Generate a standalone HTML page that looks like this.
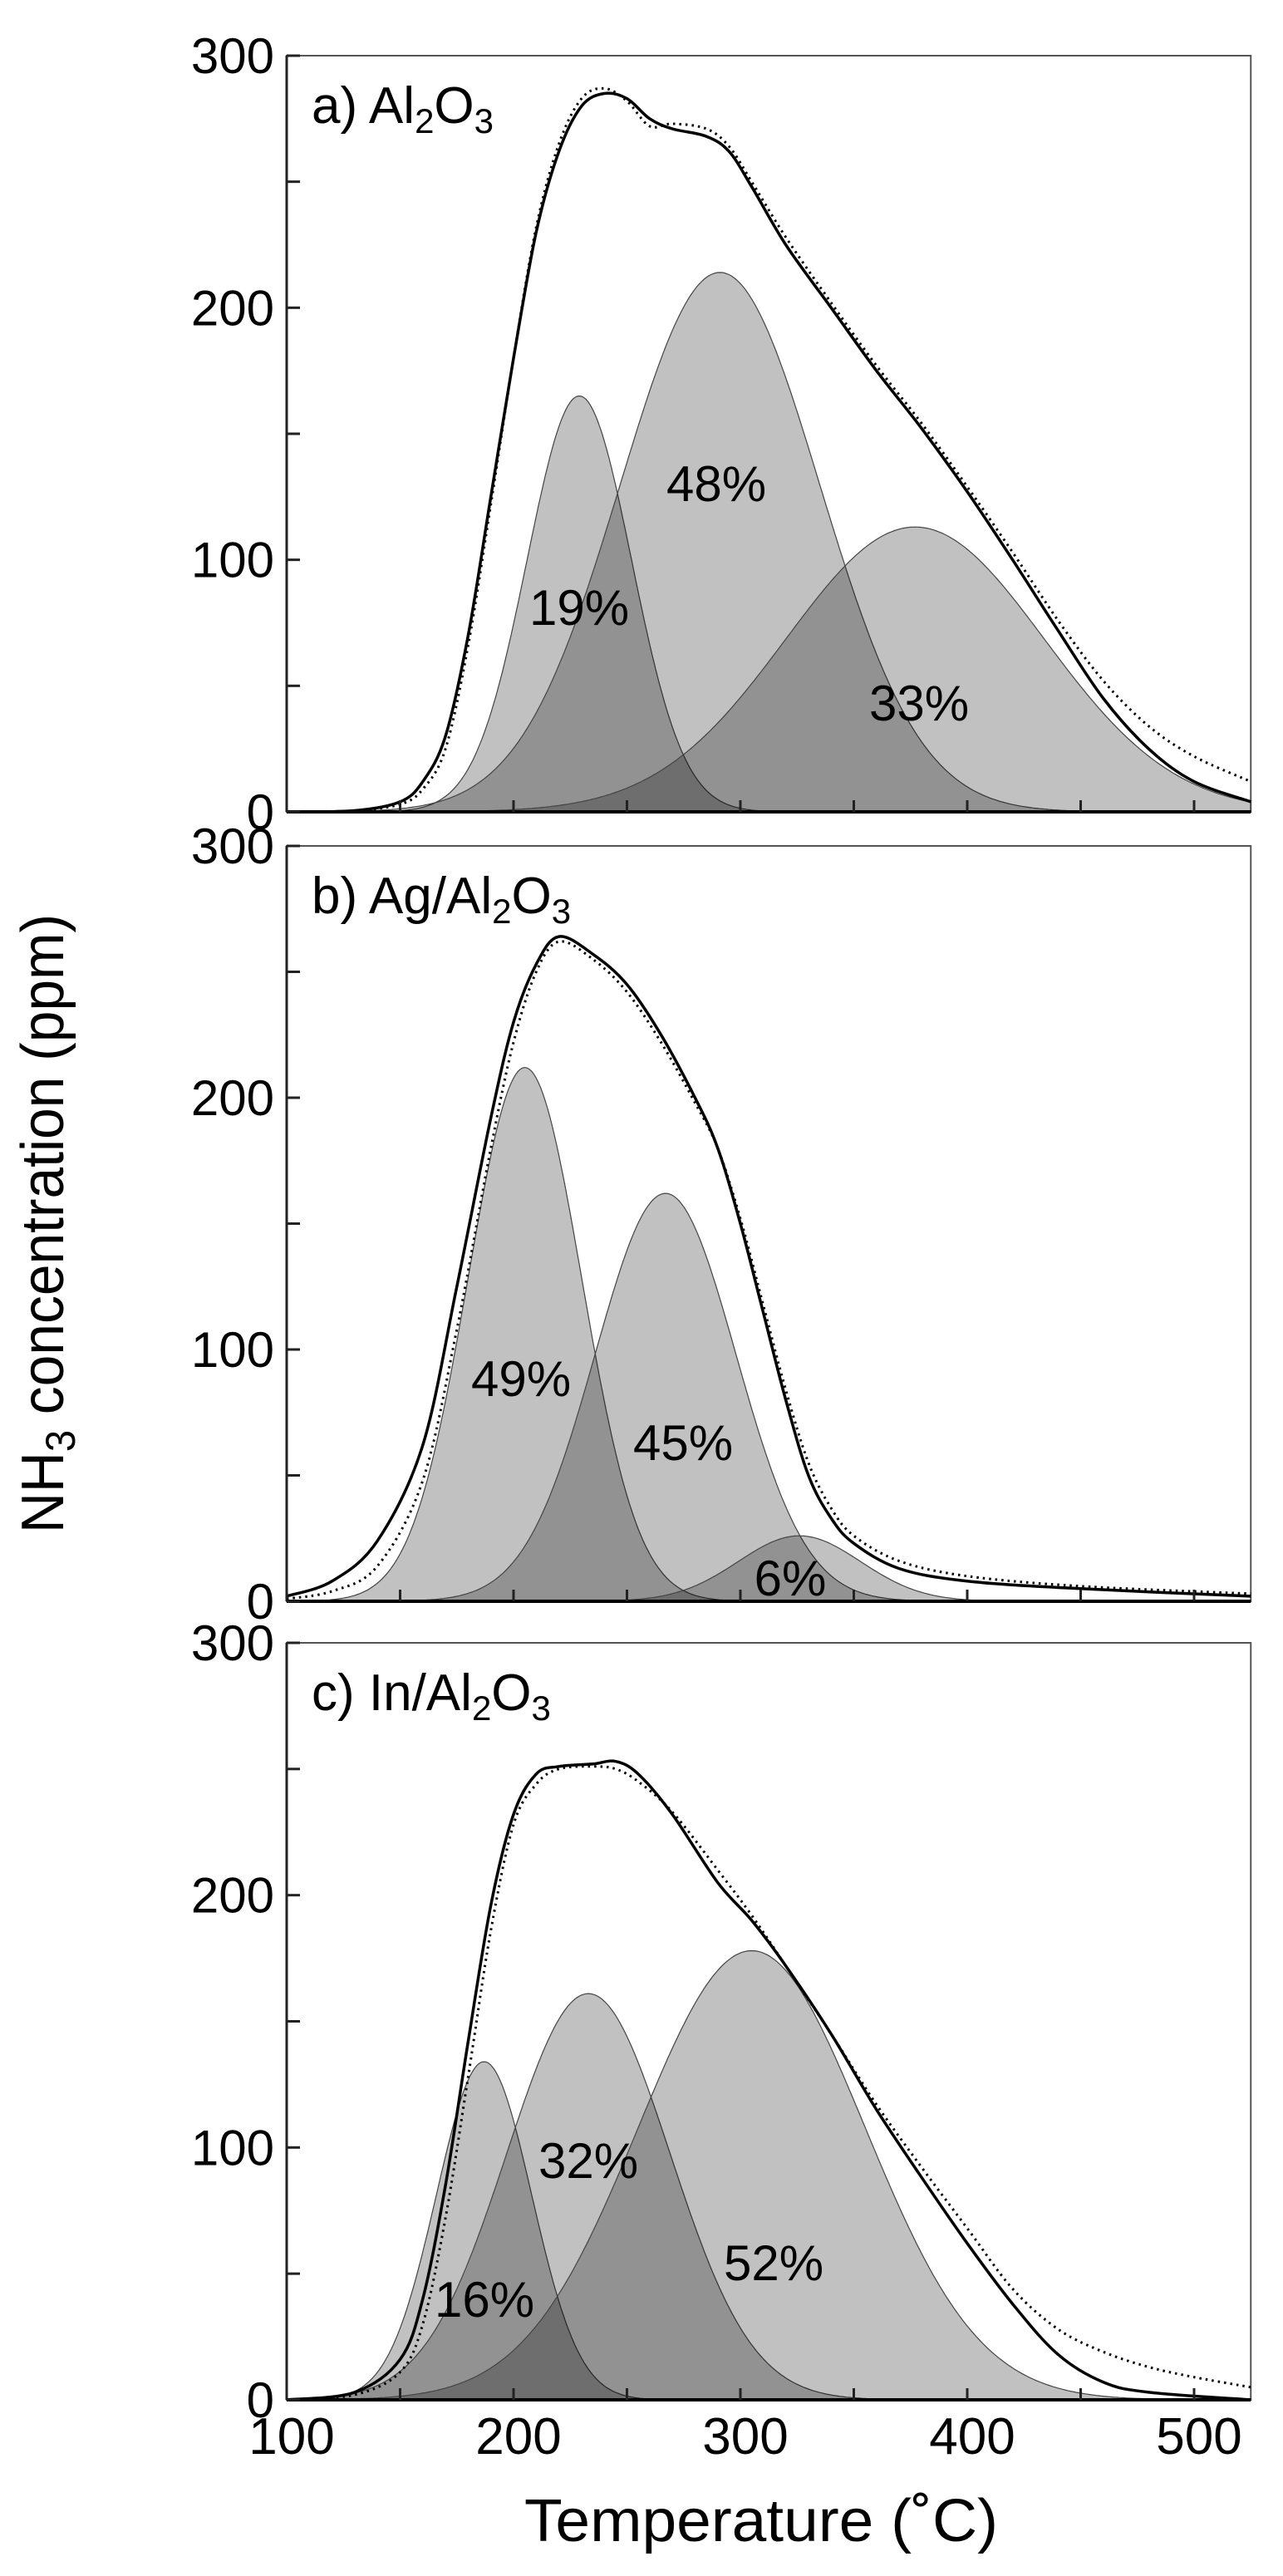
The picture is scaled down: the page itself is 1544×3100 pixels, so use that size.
<!DOCTYPE html>
<html><head><meta charset="utf-8"><style>
html,body{margin:0;padding:0;background:#fff;width:1544px;height:3100px;overflow:hidden}
svg text{font-family:"Liberation Sans",sans-serif;fill:#000}
</style></head><body>
<svg id="s" width="1544" height="3100" viewBox="0 0 1544 3100" xmlns="http://www.w3.org/2000/svg"></svg>
<script>
const S=document.getElementById('s');
const NS='http://www.w3.org/2000/svg';
function el(t,a,txt){const e=document.createElementNS(NS,t);for(const k in a)e.setAttribute(k,a[k]);if(txt!==undefined)e.textContent=txt;S.appendChild(e);return e;}
const X0=345,KX=2.73;
const X=T=>X0+(T-100)*KX;
const panels=[
 {top:67,bot:977,label:['a) Al','2','O','3'],
  g:[[229,165,23],[291,214,44],[377,113,57]],
  tot:[[100,0],[130,0.5],[150,4],[160,12],[170,30],[180,70],[190,125],[200,180],[210,230],[220,262],[230,280],[240,285],[250,283],[260,275],[270,271],[285,268],[295,262],[305,248],[320,225],[340,200],[360,175],[380,152],[400,127],[420,100],[440,72],[460,45],[480,25],[500,12],[525,4]],
  dat:[[100,0],[130,0.5],[150,3],[160,9],[170,25],[180,66],[190,122],[200,180],[210,232],[220,265],[230,283],[240,287],[250,282],[260,272],[270,273],[285,271],[295,264],[305,250],[320,228],[340,202],[360,177],[380,154],[400,129],[420,103],[440,76],[460,52],[480,34],[500,22],[525,12]],
  pct:[['19%',697,752],['48%',862,603],['33%',1106,867]]},
 {top:1018,bot:1927,label:['b) Ag/Al','2','O','3'],
  g:[[205,212,25],[267,162,31],[326,26,27]],
  tot:[[100,2],[120,8],[140,24],[160,62],[175,125],[190,192],[200,230],[210,253],[220,264],[235,257],[250,245],[265,225],[280,200],[290,180],[300,150],[310,115],[320,80],[330,50],[340,33],[350,23],[370,13],[400,8],[450,5],[525,2]],
  dat:[[100,1],[120,4],[140,14],[160,48],[175,108],[190,180],[200,222],[210,250],[220,262],[235,255],[250,242],[265,222],[280,198],[290,180],[300,152],[310,118],[320,84],[330,55],[340,37],[350,26],[370,16],[400,10],[450,6],[525,3]],
  pct:[['49%',627,1680],['45%',822,1757],['6%',951,1920]]},
 {top:1977,bot:2888,label:['c) In/Al','2','O','3'],
  g:[[187,134,21],[233,161,36],[305,178,50]],
  tot:[[100,0],[130,3],[150,16],[160,40],[170,85],[180,142],[190,196],[200,232],[210,248],[220,251],[235,252],[245,253],[255,248],[270,232],[290,205],[305,190],[320,172],[340,145],[360,115],[380,88],[400,62],[420,38],[440,18],[460,7],[480,3],[525,0]],
  dat:[[100,0],[130,2],[150,11],[160,30],[170,72],[180,128],[190,186],[200,228],[210,244],[220,250],[235,251],[245,250],[255,245],[270,233],[290,210],[305,192],[320,172],[340,145],[360,117],[380,92],[400,68],[420,44],[440,28],[460,19],[480,13],[500,9],[525,5]],
  pct:[['32%',708,2621],['16%',583,2788],['52%',931,2744]]}
];
function cr(pts){let d='M'+pts[0][0].toFixed(1)+','+pts[0][1].toFixed(1);
 for(let i=0;i<pts.length-1;i++){const p0=pts[Math.max(0,i-1)],p1=pts[i],p2=pts[i+1],p3=pts[Math.min(pts.length-1,i+2)];
 const c1=[p1[0]+(p2[0]-p0[0])/6,p1[1]+(p2[1]-p0[1])/6],c2=[p2[0]-(p3[0]-p1[0])/6,p2[1]-(p3[1]-p1[1])/6];
 d+=' C'+c1[0].toFixed(1)+','+c1[1].toFixed(1)+' '+c2[0].toFixed(1)+','+c2[1].toFixed(1)+' '+p2[0].toFixed(1)+','+p2[1].toFixed(1);}
 return d;}
panels.forEach(p=>{
 const ky=(p.bot-p.top)/300, Y=v=>p.bot-v*ky;
 el('rect',{x:X0,y:p.top,width:X(525)-X0,height:p.bot-p.top,fill:'#fff',stroke:'#555','stroke-width':2});
 p.g.forEach(([c,h,s])=>{let d='M'+X(100)+','+p.bot;
  for(let T=100;T<=525;T+=1){d+=' L'+X(T).toFixed(1)+','+Y(h*Math.exp(-(T-c)*(T-c)/(2*s*s))).toFixed(1);}
  d+=' L'+X(525)+','+p.bot+' Z';
  el('path',{d:d,fill:'#000','fill-opacity':0.245,stroke:'#444','stroke-width':1.2});});
 el('path',{d:cr(p.dat.map(([t,v])=>[X(t),Y(v)])),fill:'none',stroke:'#000','stroke-width':3,'stroke-dasharray':'2.5 5'});
 el('path',{d:cr(p.tot.map(([t,v])=>[X(t),Y(v)])),fill:'none',stroke:'#000','stroke-width':3.5});
 el('line',{x1:X0,y1:p.top,x2:X0,y2:p.bot,stroke:'#222','stroke-width':3});
 el('line',{x1:X0,y1:p.bot,x2:X(525),y2:p.bot,stroke:'#000','stroke-width':4});
 for(let v=0;v<=300;v+=50){el('line',{x1:X0,y1:Y(v),x2:X0+16,y2:Y(v),stroke:'#222','stroke-width':3});}
 for(let T=150;T<=500;T+=50){el('line',{x1:X(T),y1:p.bot,x2:X(T),y2:p.bot-14,stroke:'#222','stroke-width':3});}
 [0,100,200,300].forEach(v=>{el('text',{x:330,y:Y(v)+21,'font-size':60,'text-anchor':'end'},String(v));});
 const t=el('text',{x:375,y:p.top+81,'font-size':62});
 const mk=(s,sub)=>{const ts=document.createElementNS(NS,'tspan');ts.textContent=s;if(sub){ts.setAttribute('font-size',42);ts.setAttribute('dy',12);}else if(t.childNodes.length){ts.setAttribute('dy',-12);}t.appendChild(ts);};
 mk(p.label[0]);mk(p.label[1],1);mk(p.label[2]);mk(p.label[3],1);
 p.pct.forEach(([s,x,y])=>el('text',{x:x,y:y,'font-size':60,'text-anchor':'middle'},s));
});
[100,200,300,400,500].forEach(T=>el('text',{x:X(T)+6,y:2953,'font-size':62,'text-anchor':'middle'},String(T)));
el('text',{x:916,y:3058,'font-size':72,'text-anchor':'middle',textLength:570,lengthAdjust:'spacingAndGlyphs'},'Temperature (˚C)');
const yl=el('text',{x:0,y:0,'font-size':72,transform:'translate(76,1845) rotate(-90)',textLength:745,lengthAdjust:'spacingAndGlyphs'});
yl.innerHTML='NH<tspan font-size="50" dy="14">3</tspan><tspan dy="-14"> concentration (ppm)</tspan>';
</script>
</body></html>
